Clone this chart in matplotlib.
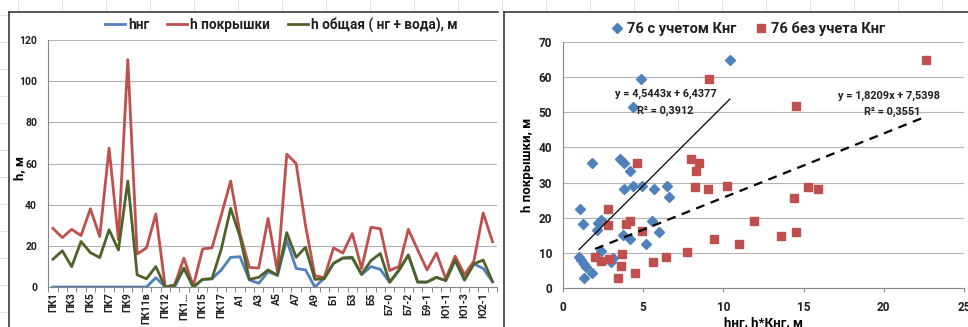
import matplotlib

matplotlib.use("Agg")

import matplotlib.pyplot as plt
import numpy as np
from matplotlib.lines import Line2D


CATEGORIES = [
    "ПК1", "ПК2", "ПК3", "ПК4", "ПК5", "ПК6", "ПК7", "ПК8", "ПК9", "ПК10",
    "ПК11в", "ПК11", "ПК12", "ПК13", "ПК1…", "ПК14", "ПК15", "ПК16", "ПК17", "ПК18",
    "А1", "А2", "А3", "А4", "А5", "А6", "А7", "А8", "А9", "А10",
    "Б1", "Б2", "Б3", "Б4", "Б5", "Б6", "Б7-0", "Б7-1", "Б7-2", "Б9",
    "Б9-1", "Б9-2", "Ю1-1", "Ю1-2", "Ю1-3", "Ю2", "Ю2-1", "Ю2-2",
]

H_NG = [
    0, 0, 0, 0, 0, 0, 0, 0, 0, 0,
    0, 4.5, 0, 0, 9, 0, 3.7, 4, 8.3, 14.4,
    14.7, 3.4, 1.8, 7.4, 5.7, 22.8, 9, 8.3, 0, 4.2,
    11.5, 14, 14, 6, 9.9, 8.6, 2.3, 8, 15.5, 2.4,
    2.4, 4.7, 3.1, 13, 3.4, 11.2, 9, 2.5,
]

H_COVER = [
    28.5, 24, 28, 25, 38, 24.5, 67.5, 23, 110.5, 16,
    19, 35.5, 0, 1, 14, 0.5, 18.5, 19, 35, 51.5,
    26, 9.5, 9.2, 33.3, 7.5, 64.5, 60, 30, 5.5, 4.5,
    19, 16.5, 26, 9, 29, 28.3, 8, 10, 28, 18,
    8.3, 16.5, 4, 15, 6, 12.5, 36, 22,
]

H_TOTAL = [
    13.5, 17.6, 9.9, 22.1, 16.7, 14.3, 27.8, 18, 51.5, 5.9,
    4, 9.9, 0, 0.8, 9.2, 0, 3.7, 4, 18.5, 38.2,
    24.4, 3.7, 4.7, 8.3, 5.7, 26.4, 14.4, 19.3, 3.7, 4,
    11.5, 14.1, 14.4, 6.2, 12.8, 16.3, 2.3, 8.3, 15.5, 2.4,
    2.4, 4.7, 3.1, 13.1, 3.4, 11.2, 13.1, 2.6,
]

WITH_K_X = [
    1.05, 1.25, 1.8, 1.0, 1.15, 1.3, 1.45, 1.3, 1.8, 2.1,
    2.2, 2.35, 2.35, 3.0, 3.1, 3.55, 3.8, 4.2, 3.8, 4.35,
    4.95, 5.7, 6.5, 6.6, 5.55, 6.0, 3.75, 4.15, 5.2, 4.35,
    4.85, 10.4,
]
WITH_K_Y = [
    22.5, 18.2, 35.5, 9.0, 8.0, 7.0, 6.0, 3.0, 4.3, 16.5,
    18.5, 19.5, 10.5, 7.6, 8.5, 36.6, 35.5, 33.3, 28.3, 28.9,
    29.0, 28.2, 28.9, 25.8, 19.0, 16.0, 15.0, 14.0, 12.5, 51.6,
    59.4, 64.8,
]

WITHOUT_K_X = [
    4.6, 2.8, 2.8, 3.9, 4.2, 4.9, 2.0, 2.4, 2.85, 3.65,
    3.6, 3.4, 4.5, 5.6, 6.45, 7.7, 8.0, 8.5, 8.3, 8.25,
    9.05, 10.2, 15.3, 15.9, 14.4, 11.9, 9.4, 11.0, 13.6, 14.5,
    9.1, 22.6, 14.5,
]
WITHOUT_K_Y = [
    35.5, 22.5, 18.0, 18.3, 19.2, 16.3, 9.0, 7.8, 8.3, 9.6,
    6.2, 3.0, 4.3, 7.4, 9.0, 10.3, 36.6, 35.5, 33.3, 28.8,
    28.2, 29.0, 28.7, 28.2, 25.7, 19.0, 14.0, 12.5, 14.9, 15.9,
    59.4, 64.8, 51.7,
]

TREND_WITH = (4.5443, 6.4377)
TREND_WITHOUT = (1.8209, 7.5398)
R2_WITH = "0,3912"
R2_WITHOUT = "0,3551"

BLUE = "#4f81bd"
RED = "#c0504d"
GREEN = "#4f6228"
GRID = "#b3b3b3"
AXIS = "#868686"
FRAME = "#3a3a3a"

W, H = 968, 327


def fx(px):
    return px / W


def fy(py):
    return 1 - py / H


def style_axes(ax):
    for side in ("top", "right"):
        ax.spines[side].set_visible(False)
    for side in ("left", "bottom"):
        ax.spines[side].set_color(AXIS)
        ax.spines[side].set_linewidth(0.8)
    ax.grid(axis="y", color=GRID, linewidth=0.8)
    ax.set_axisbelow(True)


def draw_background(fig):
    # faint spreadsheet cell lines around the charts
    for x in np.arange(18, W, 44):
        fig.add_artist(Line2D([fx(x), fx(x)], [fy(0), fy(11)], color="#e2e2e2", lw=0.7))
    for y in np.arange(15, H, 27):
        fig.add_artist(Line2D([0, fx(8)], [fy(y), fy(y)], color="#e2e2e2", lw=0.7))
    # chart frames
    fig.add_artist(Line2D([fx(9), fx(9)], [fy(11.7), 0], color=FRAME, lw=1.2))
    fig.add_artist(Line2D([fx(9), fx(498)], [fy(11.7), fy(11.7)], color=FRAME, lw=1.2))
    fig.add_artist(Line2D([fx(504), fx(504)], [fy(11.7), 0], color=FRAME, lw=1.2))
    fig.add_artist(Line2D([fx(504), 1], [fy(11.7), fy(11.7)], color=FRAME, lw=1.2))


def plot_lines(fig):
    left, right = 48.3, 497.2
    ax = fig.add_axes([fx(left), fy(287), fx(right - left), (287 - 40) / H])
    style_axes(ax)
    x = np.arange(len(CATEGORIES))
    ax.plot(x, H_NG, color=BLUE, lw=2, label="hнг")
    ax.plot(x, H_COVER, color=RED, lw=2, label="h покрышки")
    ax.plot(x, H_TOTAL, color=GREEN, lw=2, label="h общая ( нг + вода), м")
    ax.set_xlim(-0.5, len(CATEGORIES) - 0.5)
    ax.set_ylim(0, 120)
    ax.set_yticks(range(0, 121, 20))
    ax.set_xticks(x[::2])
    ax.set_xticklabels(CATEGORIES[::2], rotation=90, fontsize=7.5, fontweight="bold", va="top")
    ax.set_xticks(np.arange(-0.5, len(CATEGORIES), 1), minor=True)
    ax.tick_params(axis="x", which="major", length=0, pad=4)
    ax.tick_params(axis="x", which="minor", length=3.5, color=AXIS, width=0.7)
    ax.tick_params(axis="y", length=0, pad=8, labelsize=7.5)
    for lbl in ax.get_yticklabels():
        lbl.set_fontweight("bold")
    ax.set_ylabel("h, м", fontsize=9.5, fontweight="bold", va="center")
    ax.yaxis.set_label_coords((20 - left) / (right - left), 0.48)
    fig.legend(
        *ax.get_legend_handles_labels(),
        loc="center",
        bbox_to_anchor=(fx(281), fy(25)),
        ncol=3,
        frameon=False,
        handlelength=1.5,
        handletextpad=0.2,
        columnspacing=1.3,
        prop={"weight": "bold", "size": 9.8},
    )


def plot_scatter(fig):
    left, right = 563, 964
    ax = fig.add_axes([fx(left), fy(288.3), fx(right - left), (288.3 - 41.7) / H])
    style_axes(ax)
    ax.plot(WITH_K_X, WITH_K_Y, "D", color=BLUE, ms=5.5, mec=BLUE, label="76 с учетом Кнг")
    ax.plot(WITHOUT_K_X, WITHOUT_K_Y, "s", color=RED, ms=6, mec=RED, label="76 без учета Кнг")

    xs = np.array([min(WITH_K_X), max(WITH_K_X)])
    ax.plot(xs, TREND_WITH[0] * xs + TREND_WITH[1], color="black", lw=0.9)
    xs = np.array([min(WITHOUT_K_X), max(WITHOUT_K_X)])
    ax.plot(xs, TREND_WITHOUT[0] * xs + TREND_WITHOUT[1], color="black", lw=1.6, ls=(0, (4, 3)))

    def fmt(v):
        return f"{v:.4f}".replace(".", ",")

    eq = dict(fontsize=7.8, fontweight="bold", ha="center", va="center")
    ax.text(6.4, 55.2, f"y = {fmt(TREND_WITH[0])}x + {fmt(TREND_WITH[1])}", **eq)
    ax.text(6.4, 50.4, f"R² = {R2_WITH}", **eq)
    ax.text(20.3, 54.7, f"y = {fmt(TREND_WITHOUT[0])}x + {fmt(TREND_WITHOUT[1])}", **eq)
    ax.text(20.5, 50.1, f"R² = {R2_WITHOUT}", **eq)

    ax.set_xlim(0, 25)
    ax.set_ylim(0, 70)
    ax.set_xticks(range(0, 26, 5))
    ax.set_yticks(range(0, 71, 10))
    ax.tick_params(axis="x", length=3, color=AXIS, pad=6, labelsize=8.5)
    ax.tick_params(axis="y", length=0, pad=8, labelsize=8.5)
    for lbl in ax.get_xticklabels() + ax.get_yticklabels():
        lbl.set_fontweight("bold")
    ax.set_ylabel("h покрышки, м", fontsize=9.5, fontweight="bold", va="center")
    ax.yaxis.set_label_coords((527 - left) / (right - left), 0.5)
    ax.set_xlabel("hнг, h*Кнг, м", fontsize=9.5, fontweight="bold", labelpad=2)
    fig.legend(
        *ax.get_legend_handles_labels(),
        loc="center",
        bbox_to_anchor=(fx(748), fy(29)),
        ncol=2,
        frameon=False,
        handlelength=0.8,
        handletextpad=0.3,
        columnspacing=1.3,
        prop={"weight": "bold", "size": 10.5},
    )


def main():
    plt.rcParams["font.family"] = ["Roboto", "DejaVu Sans"]
    plt.rcParams["text.color"] = "#1f1f1f"
    plt.rcParams["xtick.color"] = "#1f1f1f"
    plt.rcParams["ytick.color"] = "#1f1f1f"
    fig = plt.figure(figsize=(W / 100, H / 100), dpi=100)
    fig.patch.set_facecolor("white")
    draw_background(fig)
    plot_lines(fig)
    plot_scatter(fig)
    fig.savefig("out.png", dpi=100)
    plt.close(fig)


if __name__ == "__main__":
    main()
